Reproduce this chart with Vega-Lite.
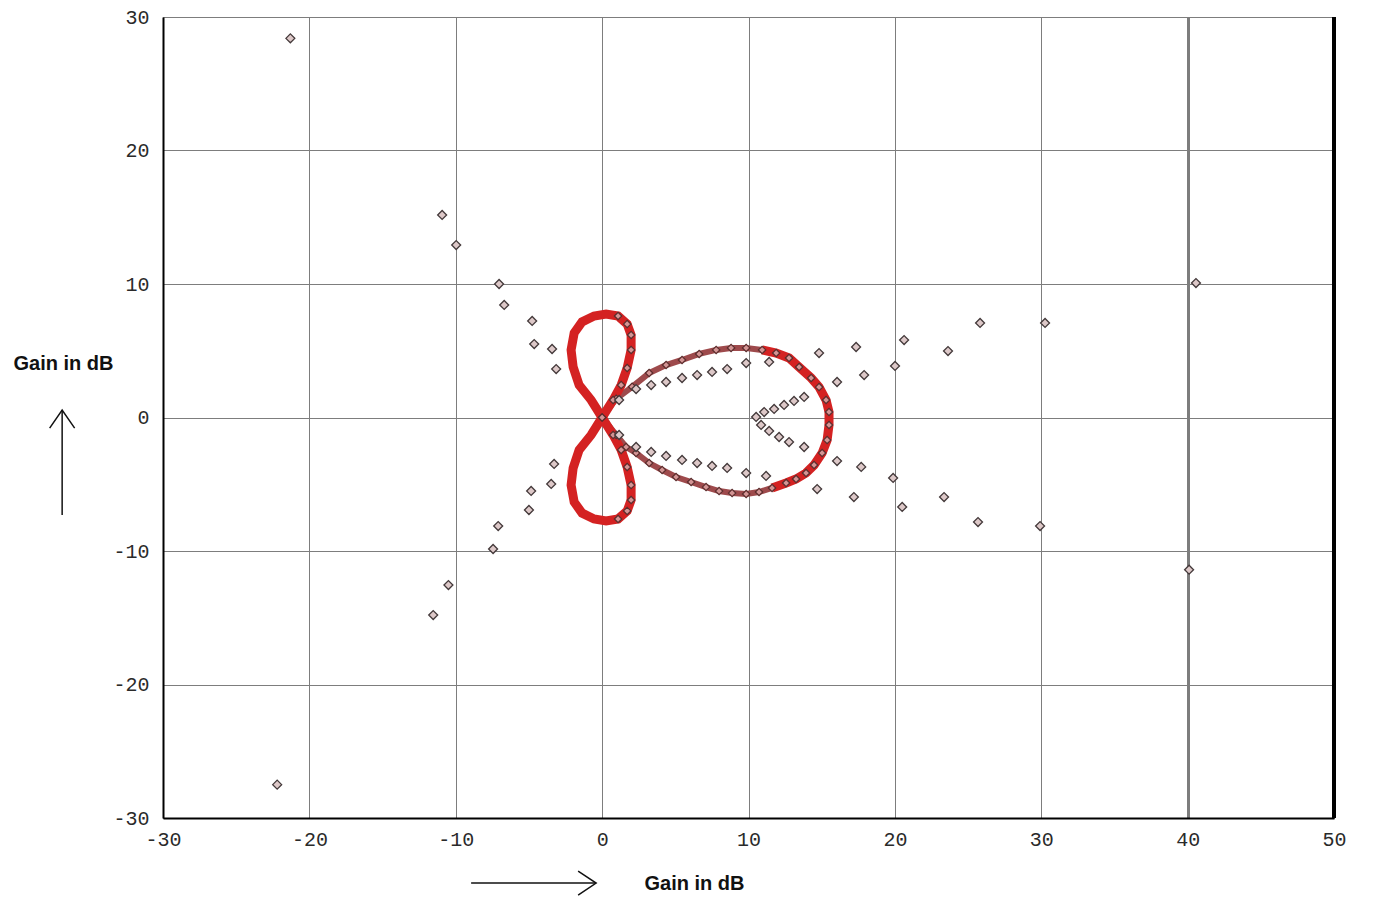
{
  "$schema": "https://vega.github.io/schema/vega-lite/v6.json",
  "width": 1171,
  "height": 801,
  "autosize": {"type": "none"},
  "padding": {"left": 163, "top": 17, "right": 40, "bottom": 81},
  "background": "white",
  "config": {"view": {"stroke": "#8a8a8a", "strokeWidth": 1}},
  "datasets": {
    "loop": [
      {"o": 0, "x": 0, "y": 0}, {"o": 1, "x": 0.96, "y": 1.4}, {"o": 2, "x": 2.05, "y": 2.3}, {"o": 3, "x": 3.21, "y": 3.33},
      {"o": 4, "x": 4.37, "y": 3.93}, {"o": 5, "x": 5.46, "y": 4.31}, {"o": 6, "x": 6.63, "y": 4.76}, {"o": 7, "x": 7.79, "y": 5.06},
      {"o": 8, "x": 8.81, "y": 5.21}, {"o": 9, "x": 9.84, "y": 5.21}, {"o": 10, "x": 10.93, "y": 5.06}, {"o": 11, "x": 11.89, "y": 4.83},
      {"o": 12, "x": 12.77, "y": 4.46}, {"o": 13, "x": 13.46, "y": 3.78}, {"o": 14, "x": 14.28, "y": 2.96}, {"o": 15, "x": 14.82, "y": 2.28},
      {"o": 16, "x": 15.3, "y": 1.31}, {"o": 17, "x": 15.5, "y": 0.41}, {"o": 18, "x": 15.5, "y": -0.56}, {"o": 19, "x": 15.37, "y": -1.69},
      {"o": 20, "x": 15.03, "y": -2.66}, {"o": 21, "x": 14.48, "y": -3.56}, {"o": 22, "x": 13.93, "y": -4.16}, {"o": 23, "x": 13.25, "y": -4.61},
      {"o": 24, "x": 12.57, "y": -4.91}, {"o": 25, "x": 11.61, "y": -5.28}, {"o": 26, "x": 10.72, "y": -5.58}, {"o": 27, "x": 9.84, "y": -5.73},
      {"o": 28, "x": 8.88, "y": -5.66}, {"o": 29, "x": 7.99, "y": -5.51}, {"o": 30, "x": 7.1, "y": -5.21}, {"o": 31, "x": 6.08, "y": -4.83},
      {"o": 32, "x": 5.05, "y": -4.46}, {"o": 33, "x": 4.1, "y": -3.93}, {"o": 34, "x": 3.21, "y": -3.41}, {"o": 35, "x": 2.32, "y": -2.66},
      {"o": 36, "x": 1.64, "y": -2.21}, {"o": 37, "x": 0.96, "y": -1.31}, {"o": 38, "x": 0, "y": 0}
    ],
    "lobes": [
      {"s": "up", "o": 0, "x": 0, "y": 0}, {"s": "up", "o": 1, "x": -0.75, "y": 1.31}, {"s": "up", "o": 2, "x": -1.57, "y": 2.43},
      {"s": "up", "o": 3, "x": -1.98, "y": 3.78}, {"s": "up", "o": 4, "x": -2.12, "y": 5.06}, {"s": "up", "o": 5, "x": -1.91, "y": 6.33},
      {"s": "up", "o": 6, "x": -1.37, "y": 7.16}, {"s": "up", "o": 7, "x": -0.55, "y": 7.6}, {"s": "up", "o": 8, "x": 0.27, "y": 7.75},
      {"s": "up", "o": 9, "x": 1.09, "y": 7.6}, {"s": "up", "o": 10, "x": 1.71, "y": 7.0}, {"s": "up", "o": 11, "x": 1.98, "y": 6.18},
      {"s": "up", "o": 12, "x": 1.98, "y": 5.06}, {"s": "up", "o": 13, "x": 1.71, "y": 3.71}, {"s": "up", "o": 14, "x": 1.3, "y": 2.43},
      {"s": "up", "o": 15, "x": 0.75, "y": 1.31}, {"s": "up", "o": 16, "x": 0, "y": 0},
      {"s": "down", "o": 0, "x": 0, "y": 0}, {"s": "down", "o": 1, "x": -0.75, "y": -1.31}, {"s": "down", "o": 2, "x": -1.57, "y": -2.43},
      {"s": "down", "o": 3, "x": -1.98, "y": -3.78}, {"s": "down", "o": 4, "x": -2.12, "y": -5.06}, {"s": "down", "o": 5, "x": -1.91, "y": -6.33},
      {"s": "down", "o": 6, "x": -1.37, "y": -7.16}, {"s": "down", "o": 7, "x": -0.55, "y": -7.6}, {"s": "down", "o": 8, "x": 0.27, "y": -7.75},
      {"s": "down", "o": 9, "x": 1.09, "y": -7.6}, {"s": "down", "o": 10, "x": 1.71, "y": -7.0}, {"s": "down", "o": 11, "x": 1.98, "y": -6.18},
      {"s": "down", "o": 12, "x": 1.98, "y": -5.06}, {"s": "down", "o": 13, "x": 1.71, "y": -3.71}, {"s": "down", "o": 14, "x": 1.3, "y": -2.43},
      {"s": "down", "o": 15, "x": 0.75, "y": -1.31}, {"s": "down", "o": 16, "x": 0, "y": 0}
    ],
    "pts": [
      {"x": -21.3, "y": 28.4}, {"x": -10.93, "y": 15.17}, {"x": -9.97, "y": 12.92}, {"x": -7.04, "y": 10.0}, {"x": -6.69, "y": 8.43},
      {"x": -4.78, "y": 7.23}, {"x": -4.64, "y": 5.5}, {"x": -3.42, "y": 5.13}, {"x": -3.14, "y": 3.63},
      {"x": 40.57, "y": 10.07}, {"x": 40.1, "y": -11.4}, {"x": -22.2, "y": -27.5}, {"x": -11.54, "y": -14.8}, {"x": -10.5, "y": -12.55},
      {"x": -7.45, "y": -9.85}, {"x": -7.1, "y": -8.13}, {"x": -5.0, "y": -6.93}, {"x": -4.85, "y": -5.5}, {"x": -3.48, "y": -4.98}, {"x": -3.28, "y": -3.48},
      {"x": 14.82, "y": 4.83}, {"x": 17.35, "y": 5.28}, {"x": 16.05, "y": 2.66}, {"x": 17.9, "y": 3.18}, {"x": 20.63, "y": 5.8},
      {"x": 20.01, "y": 3.86}, {"x": 23.63, "y": 4.98}, {"x": 25.82, "y": 7.08}, {"x": 30.26, "y": 7.08}, {"x": 16.05, "y": -3.26},
      {"x": 17.7, "y": -3.7}, {"x": 14.69, "y": -5.36}, {"x": 17.2, "y": -5.96}, {"x": 19.88, "y": -4.53}, {"x": 20.5, "y": -6.7},
      {"x": 23.36, "y": -5.96}, {"x": 25.68, "y": -7.83}, {"x": 29.92, "y": -8.13},
      {"x": 1.16, "y": 1.31}, {"x": 2.32, "y": 2.13}, {"x": 3.35, "y": 2.43}, {"x": 4.37, "y": 2.66}, {"x": 5.46, "y": 2.96},
      {"x": 6.49, "y": 3.18}, {"x": 7.51, "y": 3.41}, {"x": 8.54, "y": 3.63},
      {"x": 1.16, "y": -1.31}, {"x": 2.32, "y": -2.21}, {"x": 3.35, "y": -2.58}, {"x": 4.37, "y": -2.88}, {"x": 5.46, "y": -3.18},
      {"x": 6.49, "y": -3.41}, {"x": 7.51, "y": -3.63}, {"x": 8.54, "y": -3.78},
      {"x": 9.84, "y": 4.08}, {"x": 11.41, "y": 4.16}, {"x": 9.84, "y": -4.16}, {"x": 11.2, "y": -4.38},
      {"x": 13.8, "y": 1.54}, {"x": 13.11, "y": 1.24}, {"x": 12.43, "y": 0.94}, {"x": 11.75, "y": 0.64}, {"x": 11.07, "y": 0.41},
      {"x": 10.52, "y": 0.04}, {"x": 10.86, "y": -0.56}, {"x": 11.41, "y": -1.01}, {"x": 12.09, "y": -1.46}, {"x": 12.77, "y": -1.84}, {"x": 13.8, "y": -2.21}
    ]
  },
  "layer": [
    {
      "data": {"name": "loop"},
      "mark": {"type": "line", "color": "#9e4a4c", "strokeWidth": 6},
      "encoding": {
        "x": {
          "field": "x", "type": "quantitative",
          "scale": {"domain": [-30, 50], "nice": false, "zero": false},
          "axis": {
            "values": [-30, -20, -10, 0, 10, 20, 30, 40, 50],
            "grid": true,
            "gridColor": "#7d7d7d",
            "gridOpacity": 1,
            "gridWidth": {"condition": {"test": "datum.value === 40", "value": 3}, "value": 1},
            "domainColor": "#000000",
            "domainWidth": 2,
            "ticks": false,
            "labelFont": "Liberation Mono",
            "labelFontSize": 20,
            "labelColor": "#2a2a2a",
            "labelPadding": 11,
            "labelDx": 5,
            "labelFlush": false,
            "labelExpr": "replace(datum.label, '−', '-')",
            "title": "Gain in dB",
            "titleFont": "Liberation Sans",
            "titleFontWeight": "bold",
            "titleFontSize": 20,
            "titleColor": "#111111",
            "titleX": 531,
            "titleY": 65,
            "titleAlign": "center",
            "titleBaseline": "middle"
          }
        },
        "y": {
          "field": "y", "type": "quantitative",
          "scale": {"domain": [-30, 30], "nice": false, "zero": false},
          "axis": {
            "values": [-30, -20, -10, 0, 10, 20, 30],
            "grid": true,
            "gridColor": "#7d7d7d",
            "gridOpacity": 1,
            "domainColor": "#000000",
            "domainWidth": 2,
            "ticks": false,
            "labelFont": "Liberation Mono",
            "labelFontSize": 20,
            "labelColor": "#2a2a2a",
            "labelPadding": 14,
            "labelFlush": false,
            "labelExpr": "replace(datum.label, '−', '-')",
            "title": "Gain in dB",
            "titleFont": "Liberation Sans",
            "titleFontWeight": "bold",
            "titleFontSize": 20,
            "titleColor": "#111111",
            "titleAngle": 0,
            "titleX": -100,
            "titleY": 346,
            "titleAlign": "center",
            "titleBaseline": "middle"
          }
        },
        "order": {"field": "o", "type": "quantitative"}
      }
    },
    {
      "data": {"name": "loop"},
      "transform": [{"filter": "datum.o >= 10 && datum.o <= 25"}],
      "mark": {"type": "line", "color": "#d42222", "strokeWidth": 9},
      "encoding": {
        "x": {"field": "x", "type": "quantitative"},
        "y": {"field": "y", "type": "quantitative"},
        "order": {"field": "o", "type": "quantitative"}
      }
    },
    {
      "data": {"name": "lobes"},
      "mark": {"type": "line", "color": "#d42222", "strokeWidth": 9},
      "encoding": {
        "x": {"field": "x", "type": "quantitative"},
        "y": {"field": "y", "type": "quantitative"},
        "detail": {"field": "s", "type": "nominal"},
        "order": {"field": "o", "type": "quantitative"}
      }
    },
    {
      "data": {"name": "loop"},
      "mark": {"type": "point", "shape": "diamond", "size": 55, "filled": true, "fill": "#d39494", "stroke": "#5a2c2c", "strokeWidth": 1.2, "opacity": 1},
      "encoding": {
        "x": {"field": "x", "type": "quantitative"},
        "y": {"field": "y", "type": "quantitative"}
      }
    },
    {
      "data": {"name": "lobes"},
      "transform": [{"filter": "datum.x > 0.5"}],
      "mark": {"type": "point", "shape": "diamond", "size": 55, "filled": true, "fill": "#d39494", "stroke": "#5a2c2c", "strokeWidth": 1.2, "opacity": 1},
      "encoding": {
        "x": {"field": "x", "type": "quantitative"},
        "y": {"field": "y", "type": "quantitative"}
      }
    },
    {
      "data": {"name": "pts"},
      "mark": {"type": "point", "shape": "diamond", "size": 80, "filled": true, "fill": "#ddc8c8", "stroke": "#43393a", "strokeWidth": 1.3, "opacity": 1},
      "encoding": {
        "x": {"field": "x", "type": "quantitative"},
        "y": {"field": "y", "type": "quantitative"}
      }
    },
    {
      "data": {"values": [{}]},
      "mark": {"type": "rule", "color": "#000000", "strokeWidth": 4},
      "encoding": {
        "x": {"datum": 50, "type": "quantitative"},
        "y": {"datum": -30, "type": "quantitative"},
        "y2": {"datum": 30}
      }
    },
    {
      "data": {"values": [{}]},
      "mark": {"type": "rule", "color": "#111111", "strokeWidth": 1.5},
      "encoding": {
        "x": {"datum": -36.89, "type": "quantitative"},
        "y": {"datum": -7.3, "type": "quantitative"},
        "y2": {"datum": 0.56}
      }
    },
    {
      "data": {"values": [{}]},
      "mark": {"type": "rule", "color": "#111111", "strokeWidth": 1.5},
      "encoding": {
        "x": {"datum": -8.95, "type": "quantitative"},
        "x2": {"datum": -0.41},
        "y": {"datum": -34.87, "type": "quantitative"}
      }
    },
    {
      "data": {"values": [{}]},
      "mark": {"type": "point", "shape": "M-1,1.45L0,0L1,1.45", "size": 625, "filled": false, "stroke": "#111111", "strokeWidth": 1.5, "opacity": 1},
      "encoding": {
        "x": {"datum": -36.89, "type": "quantitative"},
        "y": {"datum": 0.56, "type": "quantitative"}
      }
    },
    {
      "data": {"values": [{}]},
      "mark": {"type": "point", "shape": "M-1.5,-1L0,0L-1.5,1", "size": 576, "filled": false, "stroke": "#111111", "strokeWidth": 1.5, "opacity": 1},
      "encoding": {
        "x": {"datum": -0.41, "type": "quantitative"},
        "y": {"datum": -34.87, "type": "quantitative"}
      }
    }
  ]
}
